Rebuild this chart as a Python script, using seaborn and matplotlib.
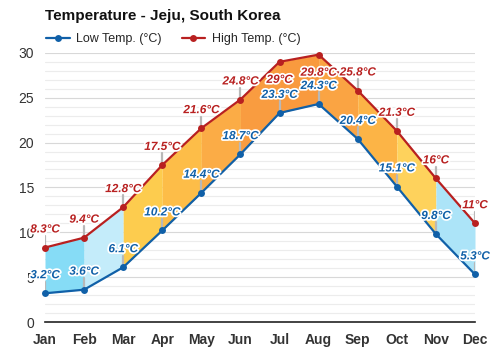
import matplotlib
matplotlib.use("Agg")
import matplotlib.pyplot as plt
import matplotlib.patheffects as pe
import seaborn as sns
import pandas as pd
import numpy as np

months = ["Jan", "Feb", "Mar", "Apr", "May", "Jun", "Jul", "Aug", "Sep", "Oct", "Nov", "Dec"]
low_temp = [3.2, 3.6, 6.1, 10.2, 14.4, 18.7, 23.3, 24.3, 20.4, 15.1, 9.8, 5.3]
high_temp = [8.3, 9.4, 12.8, 17.5, 21.6, 24.8, 29.0, 29.8, 25.8, 21.3, 16.0, 11.0]
y_ticks = [0, 5, 10, 15, 20, 25, 30]

seg_colors = ["#86dcf6", "#c4ecfa", "#fdcc4e", "#fdbd48", "#fbac46", "#f99c40",
              "#f99a3e", "#faa443", "#fcb446", "#fed25c", "#ace4f8"]

sns.set_theme(style="white")
plt.rcParams['font.family'] = ['Liberation Sans', 'DejaVu Sans']

LOW_C = "#1060a8"
HIGH_C = "#b82020"

fig = plt.figure(figsize=(5, 3.5), dpi=100)
ax = fig.add_axes([0.09, 0.08, 0.86, 0.769])

x = np.arange(len(months))
df = pd.DataFrame({"x": np.concatenate([x, x]),
                   "temp": low_temp + high_temp,
                   "series": ["Low Temp. (°C)"] * 12 + ["High Temp. (°C)"] * 12})

for i in range(len(months) - 1):
    ax.fill_between([x[i], x[i + 1]], [low_temp[i], low_temp[i + 1]],
                    [high_temp[i], high_temp[i + 1]], color=seg_colors[i], lw=0, zorder=1)

# grid
for v in np.arange(1, 31):
    ax.axhline(v, color="#d8d8d8" if v % 5 == 0 else "#ececec", lw=0.8, zorder=0)

sns.lineplot(data=df, x="x", y="temp", hue="series",
             palette={"Low Temp. (°C)": LOW_C, "High Temp. (°C)": HIGH_C},
             marker="o", markersize=5, markeredgewidth=0, linewidth=1.6,
             ax=ax, zorder=4, clip_on=False, legend=True)

eff = [pe.withStroke(linewidth=2.5, foreground="white")]

def label(i, v, color, below=False):
    off = -13 if below else 13
    if not below:
        ax.plot([x[i], x[i]], [v, v + 1.3], color="#b8b8b8", lw=1.6, zorder=3)
    ax.annotate(f"{v:g}°C", (x[i], v), xytext=(0, off), textcoords="offset points",
                ha="center", va="center", fontsize=8.5, fontweight="bold", fontstyle="italic",
                color=color, path_effects=eff, zorder=6, annotation_clip=False)

for i in range(12):
    label(i, low_temp[i], LOW_C)
    label(i, high_temp[i], HIGH_C, below=high_temp[i] > 28)

ax.set_xlim(0, 11)
ax.set_ylim(0, 30)
ax.set_yticks(y_ticks)
ax.set_yticklabels([str(t) for t in y_ticks], fontsize=10, color="#333333")
ax.set_xticks(x)
ax.set_xticklabels(months, fontsize=10, fontweight="bold", color="#333333")
ax.tick_params(axis="both", length=0, pad=8)
ax.set_xlabel("")
ax.set_ylabel("")
for s in ["top", "right", "left"]:
    ax.spines[s].set_visible(False)
ax.spines["bottom"].set_color("#222222")
ax.spines["bottom"].set_linewidth(1.2)

handles, labels = ax.get_legend_handles_labels()
if labels[0].startswith("High"):
    handles, labels = handles[::-1], labels[::-1]
ax.legend(handles=handles, labels=labels,
          loc="lower left", bbox_to_anchor=(-0.015, 1.0), ncol=2, frameon=False,
          fontsize=9, handlelength=1.9, handletextpad=0.5, columnspacing=1.6,
          borderaxespad=0.2)

fig.text(0.09, 0.955, "Temperature - Jeju, South Korea", fontsize=11, fontweight="bold",
         color="#111111", va="center", ha="left")

fig.savefig("out.png", dpi=100)
